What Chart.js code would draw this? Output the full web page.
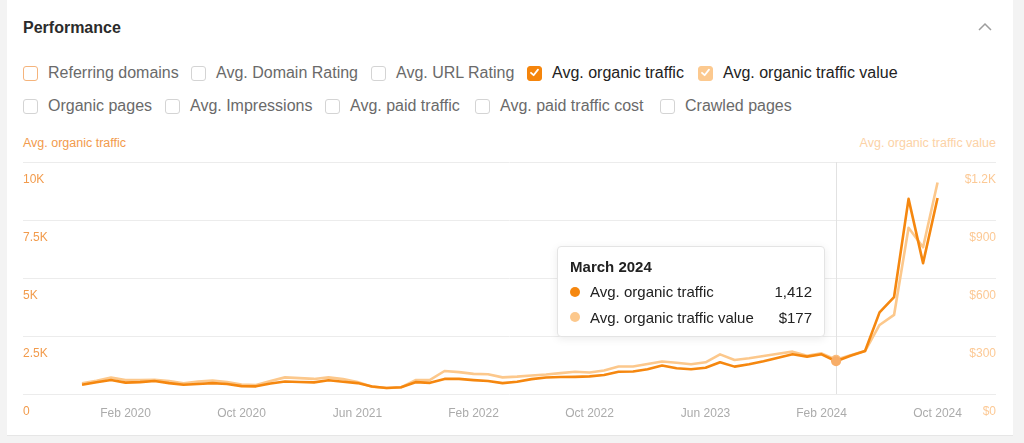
<!DOCTYPE html>
<html>
<head>
<meta charset="utf-8">
<script src="https://cdn.jsdelivr.net/npm/chart.js@4.4.1/dist/chart.umd.min.js"></script>
<style>
html,body{margin:0;padding:0;}
body{width:1024px;height:443px;background:#f3f3f3;font-family:"Liberation Sans",Arial,Helvetica,sans-serif;position:relative;overflow:hidden;}
#card{position:absolute;left:7px;top:0;width:1006px;height:435px;background:#fff;border-bottom:1px solid #e6e6e6;}
.title{position:absolute;left:23px;top:18px;font-size:16px;font-weight:bold;color:#2b2b2b;line-height:20px;}
.cb{position:absolute;height:20px;font-size:16px;line-height:20px;color:#6a6a6a;white-space:nowrap;}
.cb .box{position:absolute;left:0;top:2.5px;width:15px;height:15px;box-sizing:border-box;border:1.5px solid #d4d4d4;border-radius:3px;}
.cb .box svg{position:absolute;left:-1.5px;top:-1.5px;}
.cb .lbl{position:absolute;left:25px;top:0;}
.cb.on .lbl{color:#222;}
.axt{position:absolute;top:135px;font-size:12.5px;line-height:16px;white-space:nowrap;}
#wrap{position:absolute;left:0;top:130px;width:1024px;height:310px;}
#tip{position:absolute;display:none;box-sizing:border-box;width:268px;background:#fff;border:1px solid #e4e4e4;border-radius:4px;box-shadow:0 2px 8px rgba(0,0,0,0.08);padding:10px 12px 6px 12px;font-size:15px;color:#222;}
#tip .t{font-weight:bold;line-height:20px;margin-bottom:2px;}
#tip .r{position:relative;height:25.5px;line-height:25.5px;}
#tip .d{position:absolute;left:0;top:7.75px;width:10px;height:10px;border-radius:50%;}
#tip .l{position:absolute;left:20px;}
#tip .v{position:absolute;right:0;}
</style>
</head>
<body>
<div id="card"></div>
<div class="title">Performance</div>
<svg style="position:absolute;left:978px;top:22px" width="14" height="10"><polyline points="1,8 7,2 13,8" fill="none" stroke="#9d9d9d" stroke-width="1.5"/></svg>

<div class="cb" style="left:23px;top:63px"><div class="box" style="border-color:#f5b47c"></div><div class="lbl">Referring domains</div></div>
<div class="cb" style="left:191px;top:63px"><div class="box"></div><div class="lbl">Avg. Domain Rating</div></div>
<div class="cb" style="left:371px;top:63px"><div class="box"></div><div class="lbl">Avg. URL Rating</div></div>
<div class="cb on" style="left:527px;top:63px"><div class="box" style="background:#f5850c;border-color:#f5850c"><svg width="15" height="15" viewBox="0 0 15 15"><polyline points="4,7.8 6.6,10.2 11,4.6" fill="none" stroke="#fff" stroke-width="1.8" stroke-linecap="round" stroke-linejoin="round"/></svg></div><div class="lbl">Avg. organic traffic</div></div>
<div class="cb on" style="left:698px;top:63px"><div class="box" style="background:#fcc98f;border-color:#fcc98f"><svg width="15" height="15" viewBox="0 0 15 15"><polyline points="4,7.8 6.6,10.2 11,4.6" fill="none" stroke="#fff" stroke-width="1.8" stroke-linecap="round" stroke-linejoin="round"/></svg></div><div class="lbl">Avg. organic traffic value</div></div>

<div class="cb" style="left:23px;top:96px"><div class="box"></div><div class="lbl">Organic pages</div></div>
<div class="cb" style="left:165px;top:96px"><div class="box"></div><div class="lbl">Avg. Impressions</div></div>
<div class="cb" style="left:325px;top:96px"><div class="box"></div><div class="lbl">Avg. paid traffic</div></div>
<div class="cb" style="left:475px;top:96px"><div class="box"></div><div class="lbl">Avg. paid traffic cost</div></div>
<div class="cb" style="left:660px;top:96px"><div class="box"></div><div class="lbl">Crawled pages</div></div>

<div class="axt" style="left:23px;color:#f29b4c">Avg. organic traffic</div>
<div class="axt" style="right:28px;color:#fcd2a6">Avg. organic traffic value</div>

<div id="wrap"><canvas id="c"></canvas></div>
<div id="tip"></div>

<script>
// ---- data ----
const months = [
  'November 2019','December 2019',
  'January 2020','February 2020','March 2020','April 2020','May 2020','June 2020','July 2020','August 2020','September 2020','October 2020','November 2020','December 2020',
  'January 2021','February 2021','March 2021','April 2021','May 2021','June 2021','July 2021','August 2021','September 2021','October 2021','November 2021','December 2021',
  'January 2022','February 2022','March 2022','April 2022','May 2022','June 2022','July 2022','August 2022','September 2022','October 2022','November 2022','December 2022',
  'January 2023','February 2023','March 2023','April 2023','May 2023','June 2023','July 2023','August 2023','September 2023','October 2023','November 2023','December 2023',
  'January 2024','February 2024','March 2024','April 2024','May 2024','June 2024','July 2024','August 2024','September 2024','October 2024'
];
const organicTraffic = [
  400,510,
  600,490,510,560,470,400,430,470,430,340,330,450,
  540,520,500,590,530,470,320,260,290,510,480,650,
  650,600,560,470,530,640,710,730,740,760,820,960,
  970,1070,1230,1110,1070,1130,1370,1180,1280,1410,1560,1710,
  1610,1710,1412,1650,1850,3520,4180,8410,5640,8450
];
const organicTrafficValue = [
  56,69,
  85,72,72,74,67,56,64,70,62,49,46,67,
  86,82,78,86,77,62,38,31,34,72,73,119,
  113,104,102,86,90,96,101,108,115,111,122,142,
  142,155,168,162,154,164,205,176,185,197,208,219,
  198,210,177,200,222,357,409,860,759,1094
];
const xTickLabels = ['Feb 2020','Oct 2020','Jun 2021','Feb 2022','Oct 2022','Jun 2023','Feb 2024','Oct 2024'];
const trafficTicks = [0,2500,5000,7500,10000];
const trafficTickLabels = ['0','2.5K','5K','7.5K','10K'];
const valueTicks = [0,300,600,900,1200];
const valueTickLabels = ['$0','$300','$600','$900','$1.2K'];
const seriesNames = ['Avg. organic traffic','Avg. organic traffic value'];
const hoverMonth = 'March 2024';

// ---- styling ----
const DARK = '#f5870f';
const LIGHT = '#fcc88c';
const shortName = m => m.slice(0,3) + ' ' + m.slice(-4);
const tickIndices = months.map((m,i)=>xTickLabels.includes(shortName(m)) ? i : -1).filter(i=>i>=0);

const hoverLine = {
  id:'hoverLine',
  beforeDatasetsDraw(chart){
    const a = chart.getActiveElements();
    if(!a.length) return;
    const x = a[0].element.x, ca = chart.chartArea, ctx = chart.ctx;
    ctx.save();
    ctx.strokeStyle = '#e2e2e2';
    ctx.lineWidth = 1;
    ctx.beginPath();
    ctx.moveTo(Math.round(x)+0.5, ca.top);
    ctx.lineTo(Math.round(x)+0.5, ca.bottom);
    ctx.stroke();
    ctx.restore();
  }
};

function externalTip(context){
  const {chart, tooltip} = context;
  const el = document.getElementById('tip');
  if(!tooltip.dataPoints || !tooltip.dataPoints.length || tooltip.opacity === 0){ el.style.display='none'; return; }
  const idx = tooltip.dataPoints[0].dataIndex;
  const fmt = [v => v.toLocaleString('en-US'), v => '$' + v.toLocaleString('en-US')];
  const cols = [DARK, LIGHT];
  const vals = [organicTraffic[idx], organicTrafficValue[idx]];
  let html = '<div class="t">' + months[idx] + '</div>';
  for(let k=0;k<2;k++){
    html += '<div class="r"><span class="d" style="background:'+cols[k]+'"></span><span class="l">'+seriesNames[k]+'</span><span class="v">'+fmt[k](vals[k])+'</span></div>';
  }
  el.innerHTML = html;
  el.style.display = 'block';
  const cv = chart.canvas.getBoundingClientRect();
  el.style.left = (cv.left + tooltip.caretX - 11 - 268) + 'px';
  el.style.top = (cv.top + chart.chartArea.top + 84) + 'px';
}

const ctx = document.getElementById('c');
const chart = new Chart(ctx, {
  type:'line',
  data:{
    datasets:[
      {label:seriesNames[0], data:organicTraffic.map((v,i)=>({x:i,y:v})), yAxisID:'y',
       borderColor:DARK, borderWidth:2.6, pointRadius:0, pointHoverRadius:5, pointHoverBorderWidth:0,
       pointHoverBackgroundColor:'#f7ad68', borderJoinStyle:'round', tension:0},
      {label:seriesNames[1], data:organicTrafficValue.map((v,i)=>({x:i,y:v})), yAxisID:'y1',
       borderColor:LIGHT, borderWidth:2.6, pointRadius:0, pointHoverRadius:5, pointHoverBorderWidth:0,
       pointHoverBackgroundColor:'#f9bd80', borderJoinStyle:'round', tension:0}
    ]
  },
  options:{
    responsive:true, maintainAspectRatio:false, animation:false,
    layout:{padding:{left:23,right:28,top:32,bottom:7.6}},
    interaction:{mode:'index', intersect:false},
    plugins:{
      legend:{display:false},
      tooltip:{enabled:false, external:externalTip, mode:'index', intersect:false}
    },
    scales:{
      x:{type:'linear', min:-4.07, max:63.03,
         grid:{display:false, drawTicks:false}, border:{display:false},
         afterBuildTicks:s=>{ s.ticks = tickIndices.map(v=>({value:v})); },
         ticks:{autoSkip:false, maxRotation:0, padding:12, color:'#ababab',
                font:{family:'"Liberation Sans", Arial, sans-serif', size:12},
                callback:(v)=>shortName(months[v])}},
      y:{type:'linear', position:'left', min:0, max:10000,
         afterBuildTicks:s=>{ s.ticks = trafficTicks.map(v=>({value:v})); },
         grid:{color:'#ececec', lineWidth:1, drawTicks:false}, border:{display:false},
         ticks:{mirror:true, padding:0, labelOffset:18, color:'#f29b4c',
                font:{family:'"Liberation Sans", Arial, sans-serif', size:12},
                callback:(v,i)=>trafficTickLabels[i]}},
      y1:{type:'linear', position:'right', min:0, max:1200,
         afterBuildTicks:s=>{ s.ticks = valueTicks.map(v=>({value:v})); },
         grid:{drawOnChartArea:false, drawTicks:false}, border:{display:false},
         ticks:{mirror:true, padding:0, labelOffset:18, color:'#fcc995',
                font:{family:'"Liberation Sans", Arial, sans-serif', size:12},
                callback:(v,i)=>valueTickLabels[i]}}
    }
  },
  plugins:[hoverLine]
});

const hi = months.indexOf(hoverMonth);
const act = [{datasetIndex:0,index:hi},{datasetIndex:1,index:hi}];
chart.setActiveElements(act);
const pt = chart.getDatasetMeta(0).data[hi];
chart.tooltip.setActiveElements(act, {x:pt.x, y:pt.y});
chart.update();
</script>
</body>
</html>
